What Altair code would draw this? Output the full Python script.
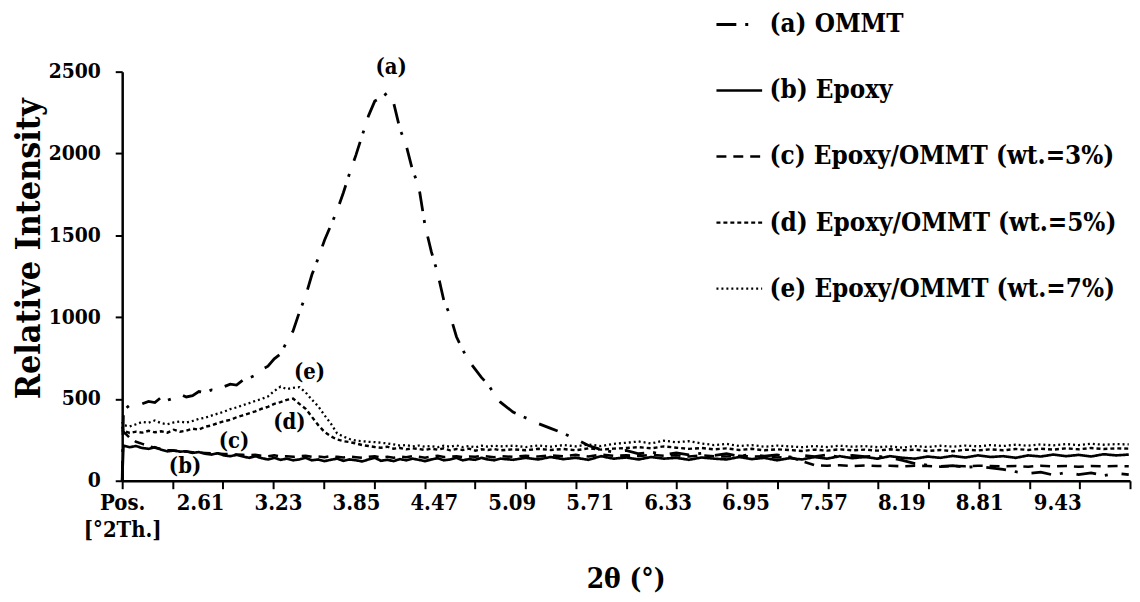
import altair as alt
import pandas as pd

FONT = "DejaVu Serif Condensed, DejaVu Serif, serif"

LABELS = ["(a) OMMT", "(b) Epoxy", "(c) Epoxy/OMMT (wt.=3%)",
          "(d) Epoxy/OMMT (wt.=5%)", "(e) Epoxy/OMMT (wt.=7%)"]

X = [1.99,
     2.00, 2.05, 2.10, 2.15, 2.20, 2.25, 2.30, 2.35, 2.40, 2.45,
     2.50, 2.55, 2.60, 2.65, 2.70, 2.75, 2.80, 2.85, 2.90, 2.95,
     3.00, 3.05, 3.10, 3.15, 3.20, 3.25, 3.30, 3.35, 3.40, 3.45,
     3.50, 3.55, 3.60, 3.65, 3.70, 3.75, 3.80, 3.85, 3.90, 3.95,
     4.00, 4.05, 4.10, 4.15, 4.20, 4.25, 4.30, 4.35, 4.40, 4.45,
     4.50, 4.55, 4.60, 4.65, 4.70, 4.75, 4.80, 4.85, 4.90, 4.95,
     5.00,
     5.1, 5.2, 5.3, 5.4, 5.5, 5.6, 5.7, 5.8, 5.9,
     6.0, 6.1, 6.2, 6.3, 6.4, 6.5, 6.6, 6.7, 6.8, 6.9,
     7.0, 7.1, 7.2, 7.3, 7.4, 7.5, 7.6, 7.7, 7.8, 7.9,
     8.0, 8.1, 8.2, 8.3, 8.4, 8.5, 8.6, 8.7, 8.8, 8.9,
     9.0, 9.1, 9.2, 9.3, 9.4, 9.5, 9.6, 9.7, 9.8, 9.9,
     10.0]

A_OMMT = [0,
     430, 462, 472, 470, 485, 478, 510, 492, 505, 530,
     512, 520, 545, 538, 555, 548, 575, 590, 585, 615,
     628, 645, 680, 700, 745, 775, 850, 915, 1030, 1130,
     1260, 1360, 1470, 1560, 1650, 1760, 1880, 1990, 2110, 2230,
     2320, 2340, 2370, 2310, 2150, 2050, 1900, 1800, 1560, 1400,
     1270, 1100, 1010, 880, 800, 730, 680, 630, 590, 530,
     480,
     420, 385, 350, 320, 290, 255, 215, 190, 175,
     185, 165, 175, 160, 170, 158, 168, 155, 165, 150,
     162, 150, 158, 145, 155, 148, 158, 145, 155, 148,
     150, 140, 125, 105, 95, 88, 92, 82, 88, 78,
     70, 55, 45, 52, 35, 50, 38, 48, 32, 45,
     38]

B_EPOXY = [0,
     215, 205, 212, 200, 195, 205, 190, 180, 185, 178,
     180, 170, 175, 165, 160, 168, 155, 150, 158, 148,
     140, 150, 138, 130, 140, 128, 135, 125, 130, 140,
     125, 130, 120, 128, 135, 122, 130, 125, 118, 130,
     140, 122, 128, 120, 132, 125, 135, 128, 120, 130,
     138, 125, 130, 140, 125, 132, 128, 140, 130, 125,
     135,
     128, 140, 130, 145, 132, 140, 128, 150, 135,
     142, 130, 145, 135, 140, 128, 142, 135, 130, 145,
     132, 140, 125, 138, 130, 145, 135, 150, 138, 145,
     135, 150, 140, 135, 148, 140, 152, 142, 155, 145,
     150, 140, 155, 148, 160, 150, 158, 148, 162, 155,
     160]

C_3PCT = [310,
     300, 262, 238, 225, 212, 202, 194, 188, 184, 180,
     178, 174, 172, 170, 168, 166, 164, 162, 160, 158,
     156, 158, 152, 150, 155, 148, 150, 146, 150, 152,
     146, 148, 144, 150, 146, 142, 148, 144, 140, 146,
     150, 142, 146, 140, 148, 144, 150, 146, 140, 148,
     152, 145, 148, 150, 144, 148, 146, 152, 148, 144,
     150,
     146, 152, 148, 155, 150, 158, 148, 160, 152,
     155, 150, 158, 152, 156, 148, 155, 150, 148, 152,
     148, 150, 142, 145, 120, 95, 92, 95, 90, 93,
     90, 92, 88, 92, 90, 86, 90, 88, 92, 90,
     88, 90, 86, 92, 88, 90, 86, 90, 88, 90,
     88]

D_5PCT = [330,
     305, 292, 300, 294, 305, 296, 302, 294, 312, 300,
     306, 318, 312, 330, 338, 352, 364, 372, 388, 400,
     412, 424, 440, 452, 470, 480, 494, 502, 470, 440,
     390, 340, 298, 272, 252, 242, 236, 228, 218, 212,
     206, 202, 208, 196, 200, 192, 198, 194, 188, 196,
     190, 198, 186, 194, 188, 196, 184, 192, 188, 194,
     186,
     192, 186, 195, 188, 194, 186, 198, 190, 196,
     200, 205, 198, 210, 202, 195, 200, 192, 198, 188,
     195, 186, 192, 188, 182, 190, 184, 192, 186, 190,
     184, 192, 186, 190, 182, 188, 180, 190, 185, 192,
     186, 194, 188, 196, 190, 198, 192, 200, 194, 198,
     196]

E_7PCT = [360,
     340, 332, 345, 360, 355, 368, 352, 345, 356, 362,
     355, 365, 378, 385, 398, 410, 422, 438, 448, 462,
     474, 488, 500, 515, 548, 575, 560, 568, 572, 540,
     495, 455, 400, 350, 290, 270, 255, 245, 242, 238,
     236, 232, 228, 222, 215, 218, 210, 215, 208, 212,
     205, 214, 208, 216, 206, 212, 204, 214, 208, 215,
     210,
     214, 206, 216, 208, 218, 210, 222, 212, 225,
     232, 240, 228, 245, 235, 242, 228, 218, 225, 212,
     218, 208, 215, 210, 205, 212, 206, 214, 208, 212,
     205, 210, 202, 212, 206, 214, 208, 215, 210, 218,
     212, 220, 214, 222, 216, 224, 218, 226, 220, 224,
     222]

TICK_VALUES = [1.99, 2.391, 2.792, 3.193, 3.594, 3.995, 4.396, 4.797, 5.198,
               5.599, 6.0, 6.401, 6.802, 7.203, 7.604, 8.005, 8.406, 8.807,
               9.208, 9.609, 10.01]
LABEL_VALUES = [1.99, 2.61, 3.23, 3.85, 4.47, 5.09, 5.71, 6.33, 6.95, 7.57,
                8.19, 8.81, 9.43]
Y_TICKS = [0, 500, 1000, 1500, 2000, 2500]

ANN_TEXT = ["(a)", "(e)", "(d)", "(c)", "(b)"]
ANN_X = [4.13, 3.48, 3.32, 2.88, 2.49]
ANN_Y = [2530, 667, 358, 243, 91]

DASHES = [[20, 9, 3, 14], [1, 0], [10, 7], [4, 3], [2, 3]]
WIDTHS = [2.8, 2.3, 3, 1.8, 2.3]

rows = []
for lab, ys in zip(LABELS, [A_OMMT, B_EPOXY, C_3PCT, D_5PCT, E_7PCT]):
    for xv, yv in zip(X, ys):
        rows.append({"x": xv, "y": yv, "s": lab})
df = pd.DataFrame(rows)
ann = pd.DataFrame({"x": ANN_X, "y": ANN_Y, "t": ANN_TEXT})

xscale = alt.Scale(domain=[1.99, 10.01], nice=False, zero=False)
yscale = alt.Scale(domain=[0, 2500], nice=False)

legend = alt.Legend(
    title=None, orient="none", legendX=597, legendY=-72, direction="vertical",
    symbolType="stroke", symbolSize=2116, symbolStrokeColor="black",
    labelFont=FONT, labelFontSize=26, labelFontWeight="bold", labelColor="black",
    labelLimit=600, rowPadding=28.5, labelOffset=6, padding=0,
)

y_axis = alt.Axis(
    values=Y_TICKS, format="d", grid=False, tickSize=7, tickWidth=2, tickColor="black",
    domainColor="black", domainWidth=2.5, labelFont=FONT, labelFontSize=21,
    labelFontWeight="bold", labelColor="black", labelPadding=15,
    title="Relative Intensity", titleFont=FONT, titleFontSize=34,
    titleFontWeight="bold", titleColor="black", titleX=-93, titleY=178,
    titleAlign="center", titleBaseline="middle")

lines = alt.Chart(df).mark_line(color="black").encode(
    x=alt.X("x:Q", scale=xscale, axis=alt.Axis(
        orient="bottom", values=TICK_VALUES, labels=False, tickSize=8,
        tickWidth=2, tickColor="black", domainColor="black", domainWidth=2.5,
        grid=False, title="2θ (°)", titleFont=FONT, titleFontSize=28,
        titleFontWeight="bold", titleColor="black", titleX=507, titleY=100,
        titleAlign="center", titleBaseline="middle")),
    y=alt.Y("y:Q", scale=yscale, axis=y_axis),
    strokeDash=alt.StrokeDash("s:N", scale=alt.Scale(domain=LABELS, range=DASHES),
                              legend=legend),
    strokeWidth=alt.StrokeWidth("s:O", scale=alt.Scale(domain=LABELS, range=WIDTHS),
                                legend=legend),
    detail="s:N",
)

labels_layer = alt.Chart(ann).mark_text(
    font=FONT, fontSize=22, fontWeight="bold", color="black",
    align="center", baseline="middle",
).encode(
    x=alt.X("x:Q", scale=xscale, axis=alt.Axis(
        orient="bottom", values=LABEL_VALUES, ticks=False, domain=False,
        grid=False, title=None, labelFont=FONT, labelFontSize=22,
        labelFontWeight="bold", labelColor="black", labelPadding=12,
        labelLineHeight=27, labelOverlap=False, labelFlush=False,
        labelBound=False,
        labelExpr="datum.value < 2.2 ? ['Pos.', '[°2Th.]'] : format(datum.value, '.2f')")),
    y=alt.Y("y:Q", scale=yscale, axis=y_axis),
    text="t:N",
)

chart = alt.layer(lines, labels_layer).resolve_axis(x="independent").resolve_scale(
    x="shared", y="shared"
).properties(
    width=1015, height=412,
    autosize=alt.AutoSizeParams(type="none"),
    padding={"left": 115, "top": 62, "right": 2, "bottom": 118},
    background="white",
).configure_view(stroke=None)

chart.save("out.html", embed_options={"renderer": "svg", "actions": False})
